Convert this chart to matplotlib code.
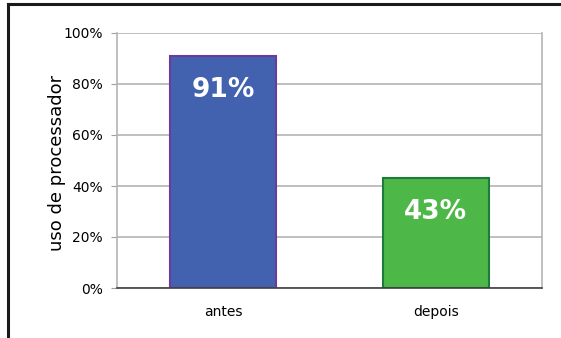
import matplotlib.pyplot as plt
from matplotlib.lines import Line2D
from matplotlib.ticker import PercentFormatter

categories = ["antes", "depois"]
usage = [91, 43]
bar_colors = ["#4262B0", "#4DB748"]
edge_colors = ["#6B3A9C", "#1F7A3C"]

fig = plt.figure(figsize=(5.61, 3.38), dpi=100)
ax = fig.add_axes([117 / 561, 50 / 338, 425 / 561, 255 / 338])

bars = ax.bar(range(len(categories)), usage, width=0.5, color=bar_colors,
              edgecolor=edge_colors, linewidth=1.5, zorder=3)
for rect, val in zip(bars, usage):
    ax.annotate(f"{val}%", (rect.get_x() + rect.get_width() / 2, val),
                xytext=(0, -15), textcoords="offset points",
                ha="center", va="top", color="white",
                fontsize=19, fontweight="bold", zorder=4)

ax.set_xlim(-0.5, 1.5)
ax.set_ylim(0, 100)
ax.set_yticks(range(0, 101, 20))
ax.yaxis.set_major_formatter(PercentFormatter(decimals=0))
ax.set_xticks(range(len(categories)))
ax.set_xticklabels(categories)
ax.tick_params(axis="x", length=0, pad=12, labelsize=10)
ax.tick_params(axis="y", length=4, color="#A0A0A0", pad=6, labelsize=10)
ax.grid(axis="y", color="#B4B4B4", linewidth=1.2, zorder=0)

fig.text(57 / 561, 1 - 163 / 338, "uso de processador", rotation=90,
         ha="center", va="center", fontsize=13)

for side in ["left", "right"]:
    ax.spines[side].set_color("#B4B4B4")
    ax.spines[side].set_linewidth(1.2)
ax.spines["top"].set_visible(False)
ax.spines["bottom"].set_color("#404040")
ax.spines["bottom"].set_linewidth(1.2)
ax.spines["bottom"].set_zorder(5)

# outer frame along top and left edge
fig.add_artist(Line2D([7.5 / 561, 1], [1 - 3.5 / 338] * 2, color="#1a1a1a", lw=2.2))
fig.add_artist(Line2D([7.5 / 561] * 2, [0, 1 - 3.5 / 338], color="#1a1a1a", lw=2.2))

fig.savefig("out.png", dpi=100)
